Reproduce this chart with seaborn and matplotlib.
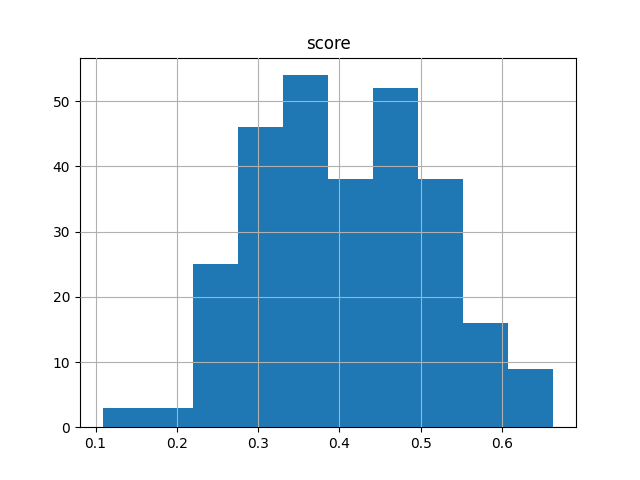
import matplotlib
matplotlib.use('Agg')
import matplotlib.pyplot as plt
import numpy as np
import pandas as pd
import seaborn as sns

# histogram of score, 10 bins
bin_edges = [0.1086, 0.1641, 0.2195, 0.2750, 0.3304, 0.3859, 0.4413, 0.4968, 0.5522, 0.6077, 0.6632]
counts = [3, 3, 25, 46, 54, 38, 52, 38, 16, 9]

edges = np.array(bin_edges)
df = pd.DataFrame({'score': (edges[:-1] + edges[1:]) / 2, 'count': counts})

fig, ax = plt.subplots(figsize=(6.4, 4.8), dpi=100)
sns.histplot(data=df, x='score', weights='count', bins=list(bin_edges),
             color='#1f77b4', alpha=1, linewidth=0, ax=ax)
ax.grid(True)
ax.set_axisbelow(False)
ax.set_title('score')
ax.set_xlabel('')
ax.set_ylabel('')
plt.savefig('out.png')
